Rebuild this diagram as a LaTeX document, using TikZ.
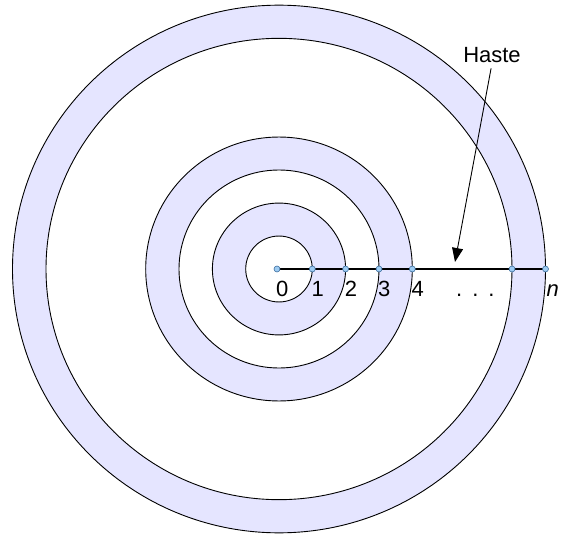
\documentclass[tikz,border=0pt]{standalone}
\usepackage{fontspec}
\setmainfont{Liberation Sans}
\usetikzlibrary{arrows.meta,calc,positioning}
\definecolor{ring-fill}{HTML}{E5E5FF}
\definecolor{dot-fill}{HTML}{9DCBF2}
\definecolor{dot-edge}{HTML}{3C6E9E}
\tikzset{
  punkt/.style={circle,draw=dot-edge,fill=dot-fill,line width=0.6pt,inner sep=0pt,minimum size=6pt},
  ziffer/.style={anchor=base west,inner sep=0pt,font=\fontsize{22}{26}\selectfont},
  stab/.style={line width=2.6pt},
}

\begin{document}
\begin{tikzpicture}[x=1pt,y=1pt,>={Triangle[length=14pt,width=11pt]}]
  \useasboundingbox (-279,-267) rectangle (286,269);

  % Ringe (leicht gestaucht wie im Original)
  \foreach \ri/\ra in {33.3/66.6, 100/133.3, 233/266.5}
    \fill[ring-fill,even odd rule] (0,0) ellipse [x radius=\ra, y radius=0.99*\ra]
                                   (0,0) ellipse [x radius=\ri, y radius=0.99*\ri];
  \foreach \r in {33.3,66.6,100,133.3,233,266.5}
    \draw[line width=0.9pt] (0,0) ellipse [x radius=\r, y radius=0.99*\r];

  % Haste mit Punkten
  \foreach \n/\x in {0/-2,1/33.3,2/66.6,3/100,4/133.3,5/233,6/266.5}
    \coordinate (q\n) at (\x,0);
  \draw[stab] (q0) -- (q6);
  \foreach \n in {0,...,6}
    \node[punkt] (p\n) at (q\n) {};

  % Beschriftung
  \foreach \n in {0,...,4}
    \node[ziffer] (l\n) at ($(q\n)+(-1,-27)$) {\n};
  \node[ziffer] (lpunkte) at (177,-27) {.\hspace{10pt}.\hspace{10pt}.};
  \node[ziffer] (ln) at ($(q6)+(1,-27)$) {\itshape n};

  % Pfeil
  \node[anchor=base,inner sep=0pt,font=\fontsize{22}{26}\selectfont] (haste) at (213,206) {Haste};
  \coordinate (spitze) at (176,7);
  \draw[->,line width=0.9pt,shorten <=5pt] (haste.south) -- (spitze);
\end{tikzpicture}
\end{document}
